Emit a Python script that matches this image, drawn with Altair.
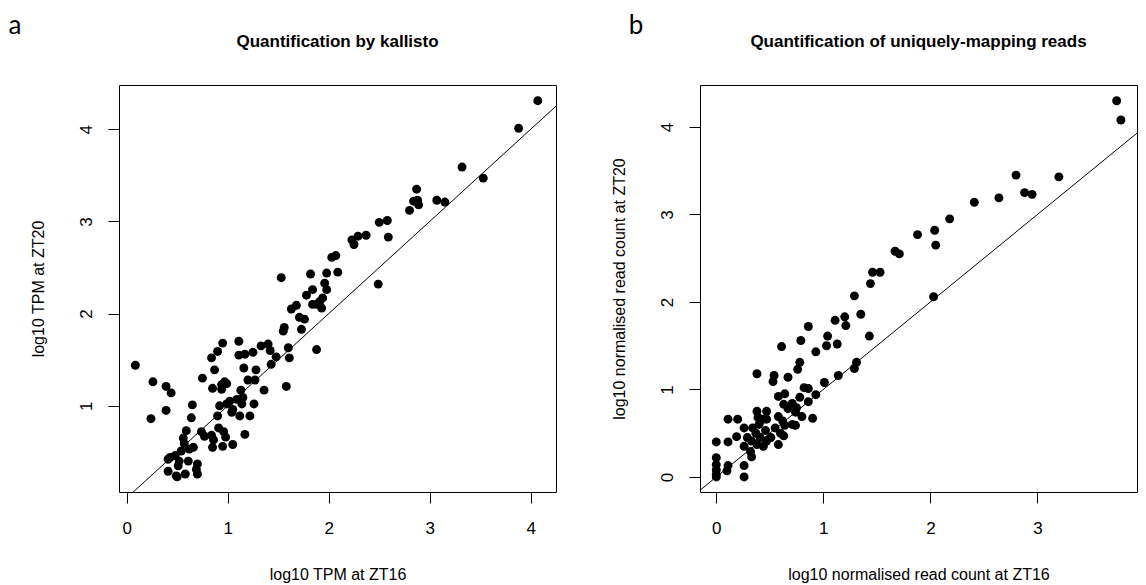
import altair as alt
import pandas as pd

# Panel a: kallisto TPM (log10) at ZT16 vs ZT20
tpm_zt16 = [
    4.07, 3.88, 3.32, 3.53, 2.87, 2.84, 2.88, 2.89, 2.80, 3.07, 3.15, 2.50, 2.58, 2.59,
    2.23, 2.29, 2.37, 2.25, 2.03, 2.07, 2.09, 1.98, 1.82, 1.53, 1.96, 1.84, 1.98, 2.49,
    1.78, 1.84, 1.91, 1.94, 1.93, 1.88, 1.63, 1.68, 1.71, 1.76, 1.73, 1.55, 1.56, 1.60,
    1.61, 1.88, 1.58, 1.40, 1.33, 1.42, 1.48, 1.43, 1.25, 1.17, 1.11, 1.11, 0.95, 0.90,
    0.84, 1.16, 1.28, 0.87, 0.75, 1.20, 1.27, 1.36, 0.97, 0.99, 0.94, 0.85, 0.94, 1.13,
    1.15, 1.09, 1.14, 1.02, 0.99, 0.92, 1.05, 1.04, 1.12, 1.22, 1.26, 0.90, 0.65, 0.64,
    0.086, 0.26, 0.39, 0.44, 0.39, 0.24, 0.91, 0.96, 0.98, 0.95, 0.85, 1.05, 1.17, 0.74,
    0.77, 0.84, 0.86, 0.59, 0.56, 0.57, 0.66, 0.62, 0.54, 0.48, 0.41, 0.61, 0.70, 0.69,
    0.70, 0.41, 0.50, 0.58, 0.51, 0.43, 0.52, 0.49,
]
tpm_zt20 = [
    4.31, 4.01, 3.59, 3.47, 3.35, 3.22, 3.23, 3.18, 3.12, 3.23, 3.21, 2.99, 3.01, 2.83,
    2.80, 2.84, 2.85, 2.75, 2.61, 2.63, 2.45, 2.44, 2.43, 2.39, 2.33, 2.26, 2.26, 2.32,
    2.20, 2.10, 2.13, 2.17, 2.06, 2.10, 2.05, 2.09, 1.96, 1.94, 1.83, 1.81, 1.85, 1.63,
    1.52, 1.61, 1.21, 1.67, 1.65, 1.60, 1.53, 1.45, 1.58, 1.56, 1.55, 1.70, 1.68, 1.59,
    1.52, 1.41, 1.39, 1.39, 1.30, 1.28, 1.28, 1.17, 1.26, 1.24, 1.23, 1.19, 1.18, 1.17,
    1.09, 1.07, 1.02, 1.05, 1.02, 1.00, 0.96, 0.93, 0.89, 0.89, 1.02, 0.89, 1.01, 0.87,
    1.44, 1.26, 1.21, 1.14, 0.95, 0.86, 0.76, 0.72, 0.66, 0.56, 0.55, 0.58, 0.69, 0.72,
    0.67, 0.68, 0.63, 0.73, 0.65, 0.59, 0.55, 0.53, 0.51, 0.46, 0.42, 0.40, 0.37, 0.31,
    0.26, 0.29, 0.23, 0.26, 0.35, 0.44, 0.40, 0.24,
]

# Panel b: uniquely-mapping read counts (log10, normalised) at ZT16 vs ZT20
reads_zt16 = [
    2.80, 2.88, 2.95, 2.64, 2.41, 2.18, 1.88, 2.04, 2.05, 1.67, 1.71, 1.46, 1.53, 1.44,
    3.20, 3.74, 3.78, 1.29, 2.03, 1.35, 1.43, 1.11, 1.20, 1.21, 0.86, 1.04, 1.03, 1.13,
    0.79, 0.61, 0.93, 0.78, 0.76, 1.31, 1.29, 1.14, 1.01, 0.38, 0.54, 0.53, 0.67, 0.82,
    0.86, 0.93, 0.58, 0.64, 0.78, 0.86, 0.63, 0.71, 0.67, 0.75, 0.74, 0.80, 0.90, 0.74,
    0.38, 0.47, 0.39, 0.47, 0.58, 0.62, 0.64, 0.55, 0.60, 0.63, 0.58, 0.46, 0.40, 0.34,
    0.37, 0.41, 0.47, 0.38, 0.33, 0.29, 0.26, 0.26, 0.32, 0.33, 0.19, 0.11, 0.20, 0.11,
    0.00, 0.00, 0.00, 0.00, 0.00, 0.00, 0.11, 0.10, 0.26, 0.26, 0.44, 0.51, 0.44, 0.71,
]
reads_zt20 = [
    3.45, 3.25, 3.23, 3.19, 3.14, 2.95, 2.77, 2.82, 2.65, 2.58, 2.55, 2.34, 2.34, 2.21,
    3.43, 4.30, 4.08, 2.07, 2.06, 1.86, 1.61, 1.79, 1.83, 1.73, 1.72, 1.61, 1.50, 1.52,
    1.56, 1.49, 1.43, 1.31, 1.23, 1.31, 1.24, 1.16, 1.08, 1.18, 1.16, 1.09, 1.14, 1.02,
    1.01, 0.94, 0.92, 0.95, 0.91, 0.86, 0.83, 0.84, 0.78, 0.79, 0.74, 0.69, 0.67, 0.59,
    0.75, 0.75, 0.68, 0.66, 0.69, 0.64, 0.59, 0.56, 0.50, 0.47, 0.37, 0.53, 0.60, 0.56,
    0.50, 0.45, 0.41, 0.37, 0.41, 0.45, 0.56, 0.35, 0.29, 0.23, 0.46, 0.66, 0.66, 0.40,
    0.40, 0.22, 0.14, 0.08, 0.03, 0.00, 0.13, 0.07, 0.13, 0.00, 0.66, 0.45, 0.35, 0.60,
]

x_ticks_a = [0, 1, 2, 3, 4]
y_ticks_a = [1, 2, 3, 4]
x_ticks_b = [0, 1, 2, 3]
y_ticks_b = [0, 1, 2, 3, 4]

FONT = "Liberation Sans"
W, H = 437, 407
TICK_FS = 17
TITLE_FS = 16


def scatter_panel(xs, ys, xdom, ydom, xticks, yticks, xtitle, ytitle, title, tag, tag_dx):
    df = pd.DataFrame({"x": xs, "y": ys})
    xscale = alt.Scale(domain=xdom, nice=False, zero=False)
    yscale = alt.Scale(domain=ydom, nice=False, zero=False)

    x_axis = alt.Axis(
        values=xticks, format="d", title=xtitle, grid=False, domain=False,
        tickSize=11, tickColor="black", tickWidth=1,
        labelFont=FONT, labelFontSize=TICK_FS, labelColor="black",
        labelBaseline="alphabetic", labelPadding=30, labelFlush=False,
        titleFont=FONT, titleFontSize=TITLE_FS, titleFontWeight="normal", titleColor="black",
        titleX=W / 2, titleY=82, titleAlign="center", titleBaseline="middle",
    )
    y_axis = alt.Axis(
        values=yticks, format="d", title=ytitle, grid=False, domain=False,
        tickSize=11, tickColor="black", tickWidth=1,
        labelFont=FONT, labelFontSize=TICK_FS, labelColor="black",
        labelAngle=270, labelAlign="center", labelBaseline="alphabetic",
        labelPadding=17, labelFlush=False,
        titleFont=FONT, titleFontSize=TITLE_FS, titleFontWeight="normal", titleColor="black",
        titleX=-81, titleY=H / 2, titleAngle=270, titleAlign="center", titleBaseline="middle",
    )

    pts = alt.Chart(df).mark_circle(size=80, color="black", opacity=1).encode(
        x=alt.X("x:Q", scale=xscale, axis=x_axis),
        y=alt.Y("y:Q", scale=yscale, axis=y_axis),
    )

    # identity line y = x across the plotting region
    lo = min(xdom[0], ydom[0])
    hi = max(xdom[1], ydom[1])
    diag = alt.Chart(pd.DataFrame({"x": [lo, hi], "y": [lo, hi]})).mark_line(
        color="black", strokeWidth=1, clip=True
    ).encode(
        x=alt.X("x:Q", scale=xscale),
        y=alt.Y("y:Q", scale=yscale),
    )

    heading = alt.Chart(pd.DataFrame({"t": [title]})).mark_text(
        font=FONT, fontSize=17, fontWeight="bold", align="center", baseline="middle", color="black"
    ).encode(text="t:N", x=alt.value(W / 2), y=alt.value(-43))

    letter = alt.Chart(pd.DataFrame({"t": [tag]})).mark_text(
        font="Lato", fontSize=26, align="center", baseline="alphabetic", color="black"
    ).encode(text="t:N", x=alt.value(tag_dx), y=alt.value(-51))

    return alt.layer(pts, diag, heading, letter).properties(width=W, height=H)


panel_a = scatter_panel(
    tpm_zt16, tpm_zt20, [-0.076, 4.25], [0.065, 4.48], x_ticks_a, y_ticks_a,
    "log10 TPM at ZT16", "log10 TPM at ZT20", "Quantification by kallisto", "a", -104,
)
panel_b = scatter_panel(
    reads_zt16, reads_zt20, [-0.152, 3.93], [-0.172, 4.48], x_ticks_b, y_ticks_b,
    "log10 normalised read count at ZT16", "log10 normalised read count at ZT20",
    "Quantification of uniquely-mapping reads", "b", -64,
)

chart = alt.hconcat(panel_a, panel_b, spacing=53).properties(
    padding={"left": 8, "top": 12, "right": 0, "bottom": 0},
    background="white",
).configure_view(stroke="black", strokeWidth=1)

chart.save("out.html", embed_options={"renderer": "svg", "actions": False})
